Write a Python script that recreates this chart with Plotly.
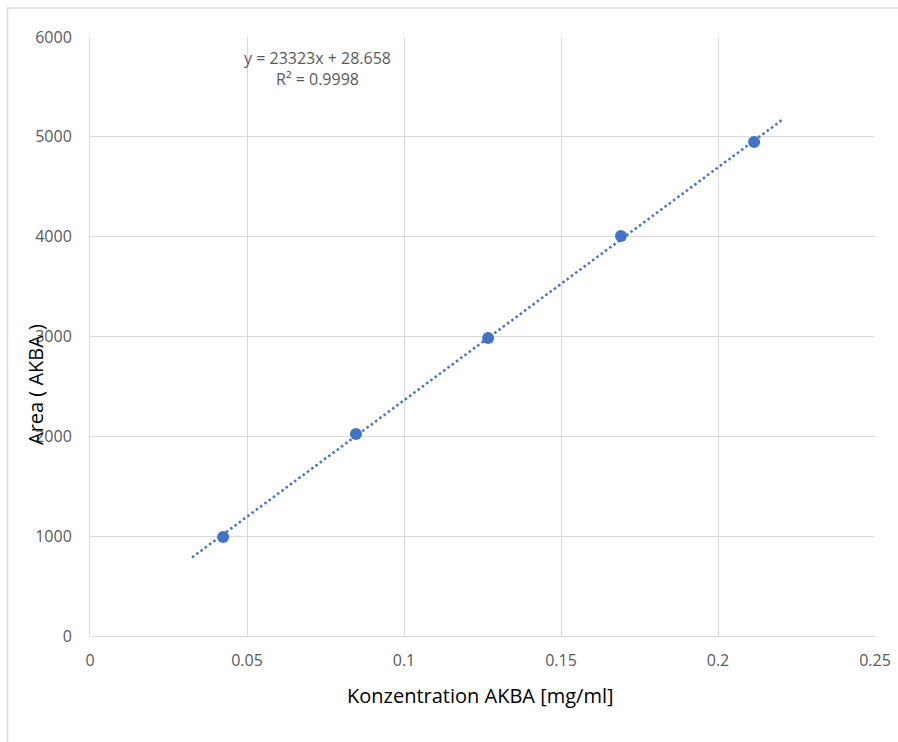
import plotly.graph_objects as go

# Data
concentration = [0.0424, 0.0847, 0.1268, 0.1691, 0.2115]
area = [992, 2023, 2985, 4007, 4948]

# Trendline as reported on the chart
slope = 23323
intercept = 28.658
trend_x = [0.0325, 0.2207]
trend_y = [slope * x + intercept for x in trend_x]

x_ticks = [0, 0.05, 0.1, 0.15, 0.2, 0.25]
x_tick_labels = ["0", "0.05", "0.1", "0.15", "0.2", "0.25"]
y_ticks = [0, 1000, 2000, 3000, 4000, 5000, 6000]

blue = "#4472C4"
grid = "#d9d9d9"
tick_col = "#595959"
font_fam = "Open Sans, Lato, sans-serif"

fig = go.Figure()
fig.add_trace(go.Scatter(
    x=trend_x, y=trend_y, mode="lines",
    line=dict(color=blue, width=2.5, dash="2.5px,2.8px"),
    showlegend=False, hoverinfo="skip"))
fig.add_trace(go.Scatter(
    x=concentration, y=area, mode="markers",
    marker=dict(color=blue, size=12),
    showlegend=False))

fig.update_layout(
    width=898, height=742, autosize=False,
    margin=dict(l=90, r=23, t=37, b=106, autoexpand=False),
    paper_bgcolor="white", plot_bgcolor="white",
    font=dict(family=font_fam, color=tick_col),
    xaxis=dict(range=[0, 0.25], tickvals=x_ticks, ticktext=x_tick_labels,
               showgrid=True, gridcolor=grid, gridwidth=1, automargin=False,
               zeroline=False, showline=True, linecolor=grid, linewidth=1,
               ticks="", tickfont=dict(size=16, color=tick_col),
               ticklabelstandoff=10, fixedrange=True),
    yaxis=dict(range=[0, 6000], tickvals=y_ticks,
               showgrid=True, gridcolor=grid, gridwidth=1, automargin=False,
               zeroline=False, showline=True, linecolor=grid, linewidth=1,
               ticks="", tickfont=dict(size=16, color=tick_col),
               ticklabelstandoff=14, fixedrange=True),
    shapes=[dict(type="rect", xref="paper", yref="paper",
                 x0=(7.5 - 90) / 785, x1=(905 - 90) / 785,
                 y0=(636 - 750) / 599, y1=(636 - 8) / 599,
                 line=dict(color=grid, width=1.5), layer="below")],
    annotations=[
        dict(text="y = 23323x + 28.658<br>R² = 0.9998", xref="paper", yref="paper",
             x=(317 - 90) / 785, y=(636 - 68.5) / 599, showarrow=False,
             xanchor="center", yanchor="middle",
             align="center", font=dict(size=16, color=tick_col)),
        dict(text="Konzentration AKBA [mg/ml]", xref="paper", yref="paper",
             x=(480.5 - 90) / 785, y=(636 - 695) / 599, showarrow=False,
             xanchor="center", yanchor="middle",
             font=dict(size=20, color="#000000")),
        dict(text="Area ( AKBA )", xref="paper", yref="paper",
             x=(35 - 90) / 785, y=(636 - 385) / 599, showarrow=False,
             xanchor="center", yanchor="middle",
             textangle=-90, font=dict(size=20, color="#000000")),
    ],
)

fig.write_html("out.html", config={"displayModeBar": False},
               post_script="document.body.style.margin='0';"
                           "document.documentElement.style.overflow='hidden';"
                           "document.body.style.overflow='hidden';")
